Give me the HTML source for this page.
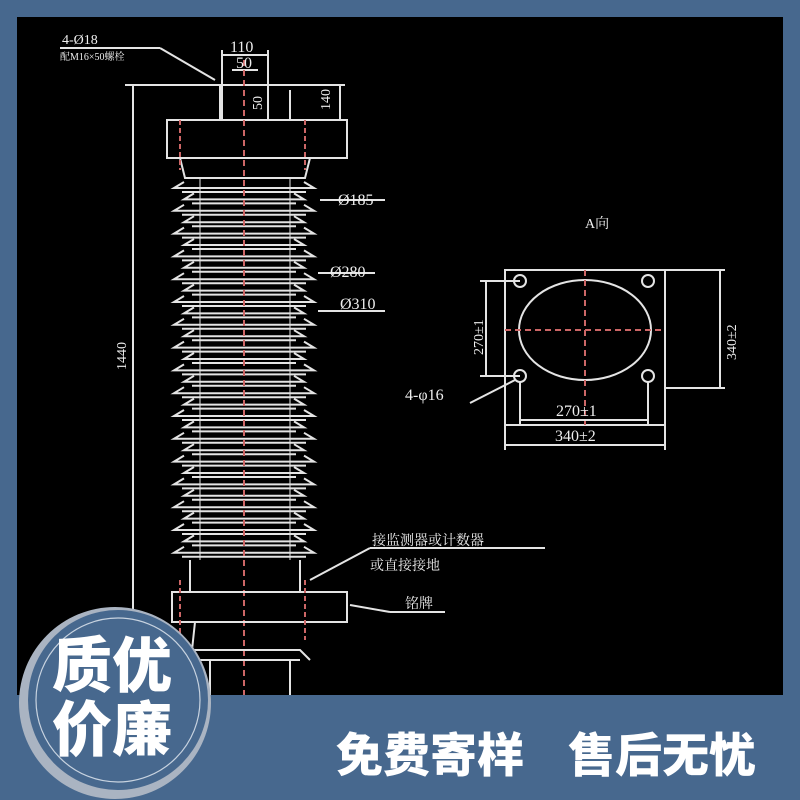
<!DOCTYPE html>
<html><head><meta charset="utf-8"><style>
body{margin:0;width:800px;height:800px;background:#47688e;overflow:hidden;position:relative;font-family:"Liberation Sans","Noto Sans CJK SC",sans-serif}
#d{position:absolute;left:17px;top:17px;width:766px;height:678px;background:#000}
svg{position:absolute;left:0;top:0}
.b{position:absolute;color:#fff;font-weight:900;font-family:"Noto Sans CJK SC",sans-serif;white-space:nowrap}
</style></head><body>
<div id="d"></div>
<svg width="800" height="800" font-family="Liberation Serif,Noto Serif CJK SC,serif" fill="none" stroke="#e4e4e4" stroke-width="2">
<g id="sh"></g>
<line x1="125" y1="85" x2="345" y2="85"/>
<line x1="133" y1="85" x2="133" y2="695"/>
<rect x="167" y="120" width="180" height="38"/>
<path d="M180 158 L185 178 L305 178 L310 158"/>
<rect x="220" y="85" width="48" height="35"/>
<line x1="222" y1="50" x2="222" y2="120"/><line x1="268" y1="50" x2="268" y2="120"/>
<line x1="222" y1="55" x2="268" y2="55"/><line x1="232" y1="70" x2="258" y2="70"/>
<line x1="290" y1="90" x2="290" y2="120"/><line x1="340" y1="85" x2="340" y2="120"/>
<line x1="215" y1="80" x2="160" y2="48"/><line x1="60" y1="48" x2="160" y2="48"/>
<line x1="244" y1="60" x2="244" y2="695" stroke="#c66" stroke-dasharray="6 4"/>
<line x1="180" y1="120" x2="180" y2="170" stroke="#c66" stroke-dasharray="5 3"/>
<line x1="305" y1="120" x2="305" y2="170" stroke="#c66" stroke-dasharray="5 3"/>
<line x1="200" y1="178" x2="200" y2="560" stroke-width="1"/><line x1="290" y1="178" x2="290" y2="560" stroke-width="1"/>
<line x1="320" y1="200" x2="385" y2="200"/><line x1="318" y1="273" x2="375" y2="273"/><line x1="318" y1="311" x2="385" y2="311"/>
<line x1="190" y1="560" x2="190" y2="592"/><line x1="300" y1="560" x2="300" y2="592"/>
<rect x="172" y="592" width="175" height="30"/>
<line x1="180" y1="580" x2="180" y2="640" stroke="#c66" stroke-dasharray="5 3"/>
<line x1="305" y1="580" x2="305" y2="640" stroke="#c66" stroke-dasharray="5 3"/>
<path d="M195 622 L192 650 L300 650 L310 660"/><line x1="195" y1="660" x2="300" y2="660"/>
<line x1="210" y1="660" x2="210" y2="695"/><line x1="290" y1="660" x2="290" y2="695"/>
<line x1="310" y1="580" x2="370" y2="548"/><line x1="370" y1="548" x2="545" y2="548"/>
<line x1="350" y1="605" x2="390" y2="612"/><line x1="390" y1="612" x2="445" y2="612"/>
<rect x="505" y="270" width="160" height="155"/>
<ellipse cx="585" cy="330" rx="66" ry="50"/>
<circle cx="520" cy="281" r="6"/><circle cx="648" cy="281" r="6"/><circle cx="520" cy="376" r="6"/><circle cx="648" cy="376" r="6"/>
<line x1="585" y1="270" x2="585" y2="425" stroke="#c66" stroke-dasharray="6 4"/>
<line x1="505" y1="330" x2="665" y2="330" stroke="#c66" stroke-dasharray="6 4"/>
<line x1="480" y1="281" x2="520" y2="281"/><line x1="480" y1="376" x2="520" y2="376"/><line x1="486" y1="281" x2="486" y2="376"/>
<line x1="665" y1="270" x2="725" y2="270"/><line x1="665" y1="388" x2="725" y2="388"/><line x1="720" y1="270" x2="720" y2="388"/>
<line x1="520" y1="382" x2="520" y2="425"/><line x1="648" y1="382" x2="648" y2="425"/>
<line x1="520" y1="420" x2="648" y2="420"/><line x1="505" y1="425" x2="505" y2="450"/><line x1="665" y1="425" x2="665" y2="450"/>
<line x1="505" y1="445" x2="665" y2="445"/>
<line x1="515" y1="380" x2="470" y2="403"/>
<g fill="#eee" stroke="none" font-size="16">
<text x="62" y="44" font-size="14">4-Ø18</text><text x="60" y="60" font-size="10">配M16×50螺栓</text>
<text x="230" y="52">110</text><text x="236" y="68">50</text>
<text x="262" y="110" transform="rotate(-90 262 110)" font-size="14">50</text>
<text x="330" y="110" transform="rotate(-90 330 110)" font-size="14">140</text>
<text x="126" y="370" transform="rotate(-90 126 370)" font-size="14">1440</text>
<text x="338" y="205">Ø185</text><text x="330" y="277">Ø280</text><text x="340" y="309">Ø310</text>
<text x="585" y="228" font-size="14">A向</text>
<text x="483" y="355" transform="rotate(-90 483 355)" font-size="14">270±1</text>
<text x="736" y="360" transform="rotate(-90 736 360)" font-size="14">340±2</text>
<text x="405" y="400">4-φ16</text>
<text x="556" y="416">270±1</text><text x="555" y="441">340±2</text>
<text x="372" y="545" font-size="14">接监测器或计数器</text>
<text x="370" y="570" font-size="14">或直接接地</text>
<text x="405" y="608" font-size="14">铭牌</text>
</g>
</svg>
<svg width="800" height="800">
<circle cx="115" cy="703" r="96" fill="#aab4c2"/>
<circle cx="118" cy="700" r="90" fill="#47688e"/>
<circle cx="118" cy="700" r="82" fill="none" stroke="#c8d3e0" stroke-width="1.2"/>
</svg>
<div class="b" style="left:52px;top:630px;font-size:60px;line-height:64px">质优<br>价廉</div>
<div class="b" style="left:336px;top:722px;font-size:47px;line-height:60px">免费寄样</div>
<div class="b" style="left:568px;top:722px;font-size:47px;line-height:60px">售后无忧</div>
<script>
var g=document.getElementById('sh'),s='';
for(var i=0;i<33;i++){var y=188+i*11.4,w=(i%2==0)?70:60;
s+='<path d="M'+(244-w+10)+' '+(y-6)+' L'+(244-w)+' '+y+' L'+(244+w)+' '+y+' L'+(244+w-10)+' '+(y-6)+'"/><line x1="'+(244-w+8)+'" y1="'+(y+4)+'" x2="'+(244+w-8)+'" y2="'+(y+4)+'"/>';}
g.innerHTML=s;
</script>
</body></html>
